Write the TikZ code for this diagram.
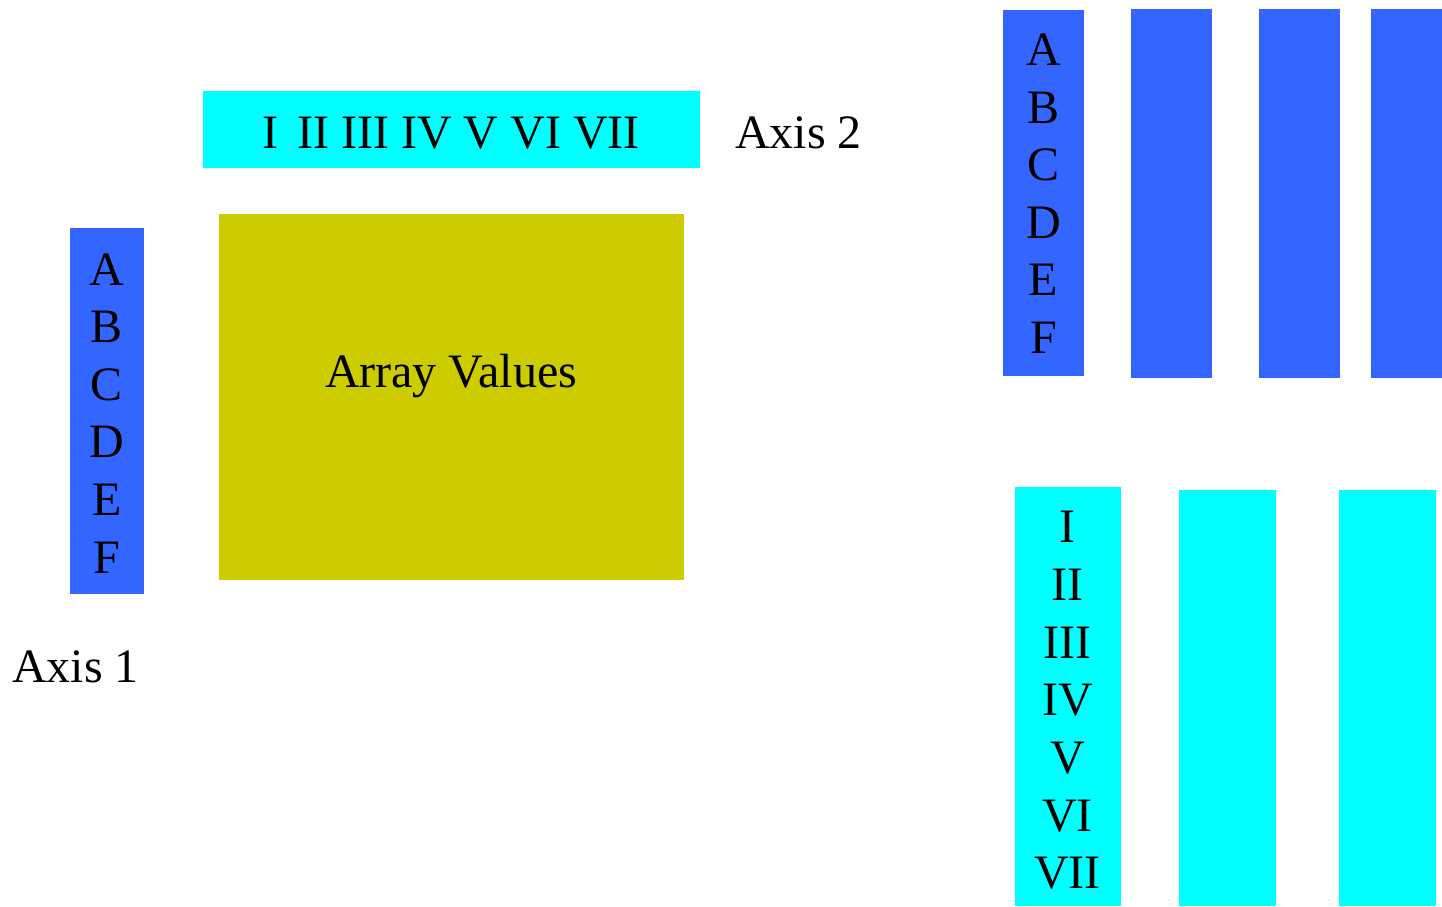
\documentclass[tikz,border=0pt]{standalone}
\usepackage{fontspec}
\setmainfont{Liberation Serif}
\definecolor{axblue}{HTML}{3366FF}
\definecolor{axcyan}{HTML}{00FFFF}
\definecolor{valyellow}{HTML}{CCCC00}
\begin{document}
\begin{tikzpicture}[x=1pt,y=-1pt,
  lbl/.style={inner sep=0pt,anchor=base,font=\fontsize{48}{57.7}\selectfont},
  blk/.style={inner sep=0pt,outer sep=0pt,anchor=north west}]
\useasboundingbox (0,0) rectangle (1442,906);
% left diagram
\fill[axcyan] (203,91) rectangle (700,168);
\fill[valyellow] (219,214) rectangle (684,580);
\fill[axblue] (70,228) rectangle (144,594);
\node[lbl] (ax2row) at (451,148) {I\hspace{0.4em}II III IV V VI VII};
\node[lbl,anchor=base west] (axis2) at (735,148) {Axis 2};
\node[lbl] (vals) at (451,387) {Array Values};
\node[lbl,anchor=base west] (axis1) at (12,682) {Axis 1};
\foreach \t [count=\i from 0] in {A,B,C,D,E,F}
  \node[lbl] (l\t) at (107,285+57.6*\i) {\t};
% right top
\fill[axblue] (1003,10) rectangle (1084,376);
\fill[axblue] (1131,9) rectangle (1212,378);
\fill[axblue] (1259,9) rectangle (1340,378);
\fill[axblue] (1371,9) rectangle (1442,378);
\foreach \t [count=\i from 0] in {A,B,C,D,E,F}
  \node[lbl] (r\t) at (1043.5,65.7+57.5*\i) {\t};
% right bottom
\fill[axcyan] (1015,487) rectangle (1121,906);
\fill[axcyan] (1179,490) rectangle (1276,906);
\fill[axcyan] (1339,490) rectangle (1436,906);
\foreach \t [count=\i from 0] in {I,II,III,IV,V,VI,VII}
  \node[lbl] (n\i) at (1067.5,542.7+57.7*\i) {\t};
\end{tikzpicture}
\end{document}
